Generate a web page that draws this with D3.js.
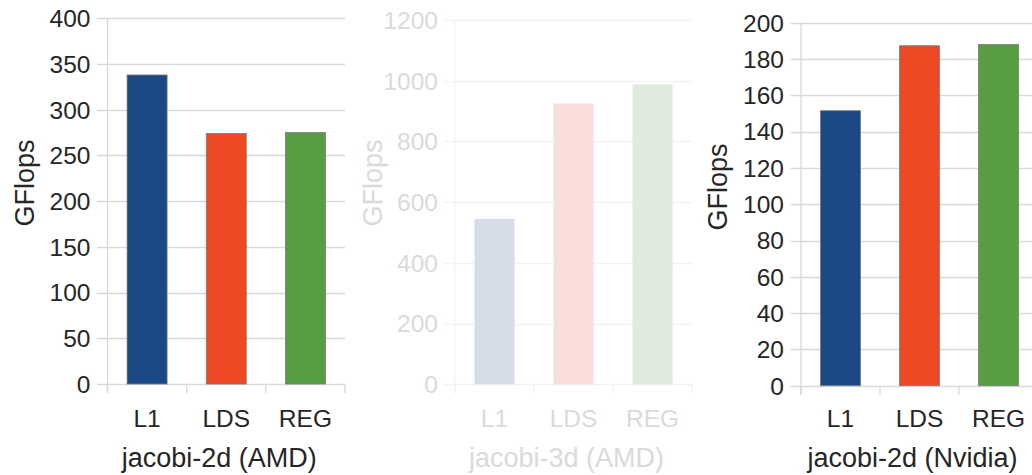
<!DOCTYPE html>
<html>
<head>
<meta charset="utf-8">
<script src="https://cdn.jsdelivr.net/npm/d3@7"></script>
<style>
  html, body { margin: 0; padding: 0; background: #fff; }
  svg { display: block; font-family: "Liberation Sans", Arial, sans-serif; }
</style>
</head>
<body>
<svg id="chart" width="1032" height="475"></svg>
<script>
// Memory variants compared in every panel
const categories = ["L1", "LDS", "REG"];

// Measured performance (GFlops) per benchmark
const jacobi2dAmd = [338, 274, 275];
const jacobi3dAmd = [545, 925, 988];
const jacobi2dNvidia = [151.5, 187.3, 188];

// Y-axis tick labels per panel
const ticks2dAmd = [0, 50, 100, 150, 200, 250, 300, 350, 400];
const ticks3dAmd = [0, 200, 400, 600, 800, 1000, 1200];
const ticks2dNvidia = [0, 20, 40, 60, 80, 100, 120, 140, 160, 180, 200];

const titles = ["jacobi-2d (AMD)", "jacobi-3d (AMD)", "jacobi-2d (Nvidia)"];
const yTitle = "GFlops";

const panels = [
  { values: jacobi2dAmd, ticks: ticks2dAmd, title: titles[0],
    left: 107.5, right: 345, top: 18.3, bottom: 384, yLabelX: 25, yLabelY: 183, faded: false },
  { values: jacobi3dAmd, ticks: ticks3dAmd, title: titles[1],
    left: 455, right: 692, top: 20, bottom: 384.3, yLabelX: 373, yLabelY: 183, faded: true },
  { values: jacobi2dNvidia, ticks: ticks2dNvidia, title: titles[2],
    left: 801, right: 1038, top: 22.7, bottom: 385.7, yLabelX: 718, yLabelY: 187, faded: false }
];

const strongColors = ["#1b4985", "#ee4824", "#579e43"];
const fadedColors = ["#d6dde8", "#f9ded9", "#e0ebdd"];

const svg = d3.select("#chart");

panels.forEach(p => {
  const g = svg.append("g");
  const textColor = p.faded ? "#dadada" : "#262626";
  const gridColor = p.faded ? "#f3f3f3" : "#d9d9d9";
  const colors = p.faded ? fadedColors : strongColors;

  const x = d3.scaleBand().domain(categories).range([p.left, p.right]).paddingInner(0).paddingOuter(0);
  const y = d3.scaleLinear().domain([0, d3.max(p.ticks)]).range([p.bottom, p.top]);

  // horizontal gridlines, extended left as outer tick marks
  g.selectAll("line.grid").data(p.ticks).join("line")
    .attr("class", "grid")
    .attr("x1", p.left - 10.5).attr("x2", p.right)
    .attr("y1", d => Math.round(y(d)) + 0.5).attr("y2", d => Math.round(y(d)) + 0.5)
    .attr("stroke", gridColor).attr("stroke-width", 1.3);

  // vertical axis line
  g.append("line")
    .attr("x1", p.left).attr("x2", p.left)
    .attr("y1", p.top).attr("y2", p.bottom + 9)
    .attr("stroke", gridColor).attr("stroke-width", 1.3);

  // category separators below the baseline
  const seps = categories.map(c => x(c)).concat([p.right]);
  g.selectAll("line.sep").data(seps).join("line")
    .attr("class", "sep")
    .attr("x1", d => d).attr("x2", d => d)
    .attr("y1", p.bottom).attr("y2", p.bottom + 9)
    .attr("stroke", gridColor).attr("stroke-width", 1.3);

  // y tick labels
  g.selectAll("text.tick").data(p.ticks).join("text")
    .attr("class", "tick")
    .attr("x", p.left - 17)
    .attr("y", d => y(d))
    .attr("dy", "0.36em")
    .attr("text-anchor", "end")
    .attr("font-size", 24.5)
    .attr("fill", textColor)
    .text(d => d);

  // bars
  const barW = 40;
  g.selectAll("rect.bar").data(p.values).join("rect")
    .attr("class", "bar")
    .attr("x", (d, i) => x(categories[i]) + x.bandwidth() / 2 - barW / 2)
    .attr("width", barW)
    .attr("y", d => y(d))
    .attr("height", d => y(0) - y(d))
    .attr("fill", (d, i) => colors[i])
    .attr("stroke", p.faded ? "none" : "#7a7a7a")
    .attr("stroke-width", 0.8);

  // category labels
  g.selectAll("text.cat").data(categories).join("text")
    .attr("class", "cat")
    .attr("x", d => x(d) + x.bandwidth() / 2)
    .attr("y", 427)
    .attr("text-anchor", "middle")
    .attr("font-size", 24.5)
    .attr("fill", textColor)
    .text(d => d);

  // panel title
  g.append("text")
    .attr("x", (p.left + p.right) / 2 - 7)
    .attr("y", 467)
    .attr("text-anchor", "middle")
    .attr("font-size", 27)
    .attr("fill", textColor)
    .text(p.title);

  // y axis title
  g.append("text")
    .attr("transform", `translate(${p.yLabelX + 9},${p.yLabelY}) rotate(-90)`)
    .attr("text-anchor", "middle")
    .attr("font-size", 27)
    .attr("fill", textColor)
    .text(yTitle);
});
</script>
</body>
</html>
